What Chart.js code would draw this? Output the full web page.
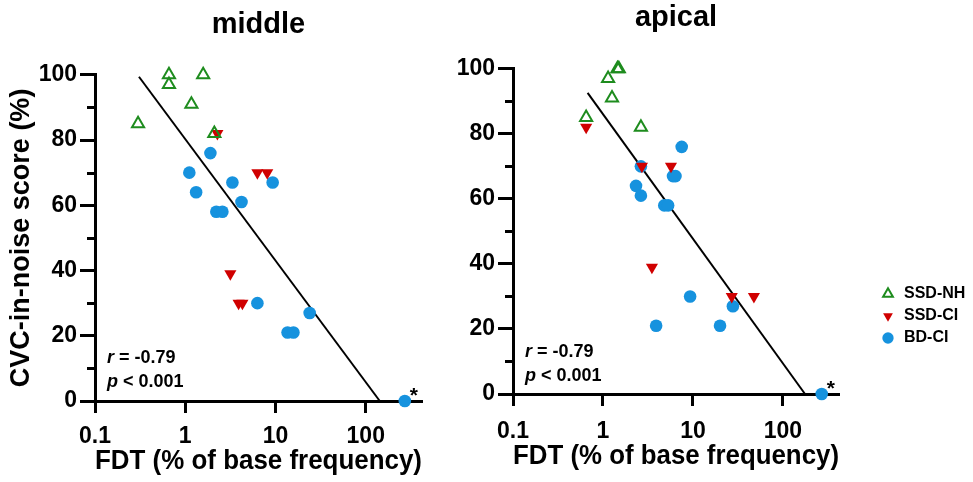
<!DOCTYPE html>
<html><head><meta charset="utf-8">
<script src="https://cdn.jsdelivr.net/npm/chart.js@4.4.1/dist/chart.umd.min.js"></script>
<style>
html,body{margin:0;padding:0;background:#fff;}
#wrap{position:relative;width:973px;height:482px;overflow:hidden;}
#c1{position:absolute;left:0;top:0;}
#c2{position:absolute;left:440px;top:0;}
</style></head><body>
<div id="wrap"><canvas id="c1" width="440" height="482"></canvas><canvas id="c2" width="533" height="482"></canvas></div>
<script>
// ---- data ----
const seriesNames = ['SSD-NH', 'SSD-CI', 'BD-CI'];
const panelTitles = ['middle', 'apical'];
const xTitle = 'FDT (% of base frequency)';
const yTitle = 'CVC-in-noise score (%)';
const xTickValues = [0.1, 1, 10, 100];
const xTickLabels = ['0.1', '1', '10', '100'];

// middle
const midNH_x = [0.66, 0.66, 1.58, 1.17, 0.30, 2.10];
const midNH_y = [100, 97, 100, 91, 85, 82];
const midSCI_x = [2.27, 6.3, 8.1, 3.16, 3.9, 4.3];
const midSCI_y = [82, 70, 70, 39, 30, 30];
const midBD_x = [1.9, 1.11, 3.33, 9.3, 1.32, 4.2, 2.21, 2.58, 6.3, 23.9, 13.6, 15.8, 271];
const midBD_y = [76, 70, 67, 67, 64, 61, 58, 58, 30, 27, 21, 21, 0];
const midFit_x = [0.307, 143];
const midFit_y = [99.4, 0];
const midStar = {x: 271, y: 0};
const midStats = ['-0.79', '0.001'];

// apical
const apNH_x = [1.45, 1.5, 1.14, 1.26, 0.65, 2.64];
const apNH_y = [100, 100, 97, 91, 85, 82];
const apSCI_x = [0.65, 2.71, 5.7, 3.5, 27, 47.6];
const apSCI_y = [82, 70, 70, 39, 30, 30];
const apBD_x = [7.5, 2.64, 6.0, 6.4, 2.33, 2.64, 4.8, 5.3, 9.3, 27.8, 3.9, 20, 270];
const apBD_y = [76, 70, 67, 67, 64, 61, 58, 58, 30, 27, 21, 21, 0];
const apFit_x = [0.675, 176];
const apFit_y = [92.6, 0];
const apStar = {x: 270, y: 0};
const apStats = ['-0.79', '0.001'];

// ---- styling ----
const FONT = "'Liberation Sans', Arial, Helvetica, sans-serif";
const GREEN = 'rgb(30,140,30)';
const RED = 'rgb(208,0,0)';
const BLUE = 'rgb(22,146,222)';
const pts = (xs, ys) => xs.map((x, i) => ({x: x, y: ys[i]}));

function makeDatasets(nhx, nhy, cix, ciy, bdx, bdy, fx, fy) {
  return [
    {label: seriesNames[0], data: pts(nhx, nhy), pointStyle: 'triangle', pointRadius: 7,
     pointBorderWidth: 2, borderColor: GREEN, backgroundColor: 'rgba(0,0,0,0)', pointBackgroundColor: 'rgba(0,0,0,0)', pointBorderColor: GREEN, clip: false},
    {label: seriesNames[1], data: pts(cix, ciy), pointStyle: 'triangle', pointRotation: 180, pointRadius: 7,
     pointBorderWidth: 0, borderWidth: 0, borderColor: RED, backgroundColor: RED, pointBackgroundColor: RED, pointBorderColor: RED, clip: false},
    {label: seriesNames[2], data: pts(bdx, bdy), pointStyle: 'circle', pointRadius: 6.3,
     pointBorderWidth: 0, borderWidth: 0, borderColor: BLUE, backgroundColor: BLUE, pointBackgroundColor: BLUE, pointBorderColor: BLUE, clip: false},
    {label: 'fit', data: pts(fx, fy), showLine: true, pointRadius: 0, borderColor: '#000', borderWidth: 2, clip: false}
  ];
}

const minorTicks = {
  id: 'minorTicks',
  afterDraw(chart) {
    const y = chart.scales.y, ctx = chart.ctx;
    ctx.save(); ctx.strokeStyle = '#000'; ctx.lineWidth = 3;
    y.ticks.forEach(t => {
      if (t.value % 20 !== 0) {
        const py = Math.round(y.getPixelForValue(t.value)) + 0.5;
        ctx.beginPath(); ctx.moveTo(y.right - 8, py); ctx.lineTo(y.right, py); ctx.stroke();
      }
    });
    ctx.restore();
  }
};

function statsPlugin(vals, dy1, dy2) {
  return {
    id: 'stats',
    afterDraw(chart) {
      const ctx = chart.ctx, ca = chart.chartArea;
      ctx.save(); ctx.fillStyle = '#000'; ctx.textBaseline = 'middle'; ctx.textAlign = 'left';
      const x0 = ca.left + 12;
      const lines = [['r', ' = ' + vals[0], dy1], ['p', ' < ' + vals[1], dy2]];
      lines.forEach(l => {
        ctx.font = 'italic bold 18px ' + FONT;
        ctx.fillText(l[0], x0, ca.bottom - l[2]);
        const w = ctx.measureText(l[0]).width;
        ctx.font = 'bold 18px ' + FONT;
        ctx.fillText(l[1], x0 + w, ca.bottom - l[2]);
      });
      ctx.restore();
    }
  };
}

function starPlugin(pt) {
  return {
    id: 'star',
    afterDatasetsDraw(chart) {
      const ctx = chart.ctx;
      const px = chart.scales.x.getPixelForValue(pt.x), py = chart.scales.y.getPixelForValue(pt.y);
      ctx.save(); ctx.fillStyle = '#000'; ctx.font = 'bold 21px ' + FONT;
      ctx.textAlign = 'center'; ctx.textBaseline = 'alphabetic';
      ctx.fillText('*', px + 9, py + 1);
      ctx.restore();
    }
  };
}

const legendPlace = {
  id: 'legendPlace',
  afterLayout(chart) {
    const lg = chart.legend; if (!lg) return;
    const ca = chart.chartArea;
    const w = lg.width, h = lg.height;
    lg.left = ca.right + 35; lg.right = lg.left + w;
    lg.top = ca.bottom - 114; lg.bottom = lg.top + h;
  }
};

function makeChart(canvasId, title, datasets, opts) {
  return new Chart(document.getElementById(canvasId), {
    type: 'scatter',
    data: {datasets: datasets},
    options: {
      responsive: false, animation: false, devicePixelRatio: 1, events: [],
      layout: {padding: {left: 0, right: opts.padRight, top: 0, bottom: 0}},
      plugins: {
        tooltip: {enabled: false},
        title: {display: true, text: title, fullSize: false, color: '#000',
                font: {family: FONT, size: 29, weight: 'bold'}, padding: {top: opts.titleTop, bottom: opts.titleBottom}},
        legend: opts.legend ? {
          display: true, position: 'chartArea', align: 'start',
          labels: {usePointStyle: true, boxHeight: 8, padding: 6, color: '#000',
                   font: {family: FONT, size: 16, weight: 'bold'},
                   filter: item => item.text !== 'fit'}
        } : {display: false}
      },
      scales: {
        x: {
          type: 'logarithmic', min: 0.1, max: 420,
          afterBuildTicks: s => { s.ticks = xTickValues.map(v => ({value: v})); },
          afterFit: s => { s.height = opts.xHeight; },
          ticks: {callback: (v, i) => xTickLabels[i], color: '#000', padding: opts.xTickPad, maxRotation: 0, autoSkip: false,
                  font: {family: FONT, size: 23, weight: 'bold'}},
          grid: {drawOnChartArea: false, drawTicks: true, tickLength: 12, tickWidth: 3, tickColor: '#000'},
          border: {display: true, width: 3, color: '#000'},
          title: {display: true, text: xTitle, color: '#000', font: {family: FONT, size: 27, weight: 'bold'},
                  padding: {top: 0, bottom: opts.xTitleBottom}}
        },
        y: {
          type: 'linear', min: 0, max: 100,
          afterFit: s => { s.width = opts.yWidth; },
          ticks: {stepSize: 10, callback: v => (v % 20 === 0 ? String(v) : ''), color: '#000', padding: 3,
                  font: {family: FONT, size: 23, weight: 'bold'}},
          grid: {drawOnChartArea: false, drawTicks: true, tickLength: 15, tickWidth: 3,
                 tickColor: c => (c.tick && c.tick.value % 20 === 0 ? '#000' : 'rgba(0,0,0,0)')},
          border: {display: true, width: 3, color: '#000'},
          title: {display: opts.yTitle, text: yTitle, color: '#000', font: {family: FONT, size: 27, weight: 'bold'},
                  padding: {top: 5, bottom: 0}}
        }
      }
    },
    plugins: opts.plugins
  });
}

makeChart('c1', panelTitles[0],
  makeDatasets(midNH_x, midNH_y, midSCI_x, midSCI_y, midBD_x, midBD_y, midFit_x, midFit_y),
  {padRight: 18, titleTop: 8, titleBottom: 32, xHeight: 81, xTickPad: 10, xTitleBottom: 4, yWidth: 95, yTitle: true,
   legend: false, plugins: [minorTicks, statsPlugin(midStats, 43, 19), starPlugin(midStar)]});

makeChart('c2', panelTitles[1],
  makeDatasets(apNH_x, apNH_y, apSCI_x, apSCI_y, apBD_x, apBD_y, apFit_x, apFit_y),
  {padRight: 134, titleTop: 1, titleBottom: 33, xHeight: 88, xTickPad: 12, xTitleBottom: 9, yWidth: 73, yTitle: false,
   legend: true, plugins: [minorTicks, statsPlugin(apStats, 42, 18), starPlugin(apStar), legendPlace]});
</script>
</body></html>
